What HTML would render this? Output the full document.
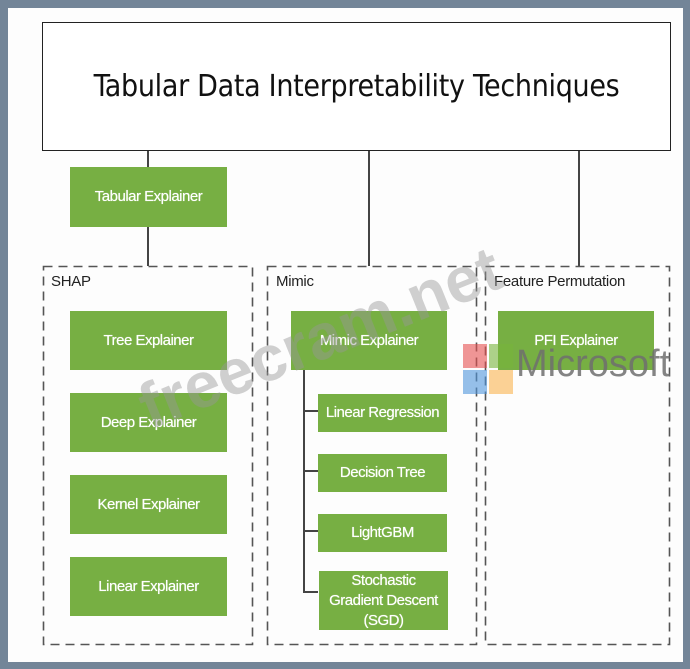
<!DOCTYPE html>
<html><head><style>
body{margin:0;width:690px;height:669px;background:#738598;position:relative;overflow:hidden;font-family:"Liberation Sans",sans-serif}
.w{position:absolute;left:8px;top:8px;width:675px;height:654px;background:#fdfdfd}
.a{position:absolute}
.g{position:absolute;background:#77af43;color:#fff;font-size:15px;display:flex;align-items:center;justify-content:center;text-align:center;letter-spacing:-0.5px;line-height:20px;text-shadow:0 0 0.6px #fff}
.l{position:absolute;background:#444}
.lab{position:absolute;font-size:15px;color:#222;letter-spacing:-0.3px}
</style></head><body>
<div class="w"></div>
<div class="a" style="left:42px;top:22px;width:627px;height:127px;border:1.5px solid #222;background:#fff;display:flex;align-items:center;justify-content:center;font-size:30px;color:#111;font-family:'DejaVu Sans Condensed','DejaVu Sans',sans-serif;letter-spacing:-0.3px">Tabular Data Interpretability Techniques</div>
<div class="l" style="left:147px;top:151px;width:1.5px;height:115px"></div>
<div class="l" style="left:368px;top:151px;width:1.5px;height:115px"></div>
<div class="l" style="left:578px;top:151px;width:1.5px;height:115px"></div>
<div class="g" style="left:70px;top:167px;width:157px;height:60px">Tabular Explainer</div>
<svg class="a" style="left:0;top:0" width="690" height="669">
<g fill="none" stroke="#555" stroke-width="1.6" stroke-dasharray="9,6">
<rect x="43.5" y="266.5" width="209" height="378"/>
<rect x="267.5" y="266.5" width="209" height="378"/>
<rect x="485.5" y="266.5" width="184" height="378"/>
</g></svg>
<div class="lab" style="left:51px;top:273px">SHAP</div>
<div class="lab" style="left:276px;top:273px">Mimic</div>
<div class="lab" style="left:494px;top:273px">Feature Permutation</div>
<div class="g" style="left:70px;top:311px;width:157px;height:59px">Tree Explainer</div>
<div class="g" style="left:70px;top:393px;width:157px;height:59px">Deep Explainer</div>
<div class="g" style="left:70px;top:475px;width:157px;height:59px">Kernel Explainer</div>
<div class="g" style="left:70px;top:557px;width:157px;height:59px">Linear Explainer</div>
<div class="g" style="left:291px;top:311px;width:156px;height:59px">Mimic Explainer</div>
<div class="l" style="left:303px;top:370px;width:1.5px;height:222px"></div>
<div class="l" style="left:303px;top:410px;width:15px;height:1.5px"></div>
<div class="l" style="left:303px;top:470px;width:15px;height:1.5px"></div>
<div class="l" style="left:303px;top:530px;width:15px;height:1.5px"></div>
<div class="l" style="left:303px;top:591px;width:15px;height:1.5px"></div>
<div class="g" style="left:318px;top:394px;width:129px;height:38px">Linear Regression</div>
<div class="g" style="left:318px;top:454px;width:129px;height:38px">Decision Tree</div>
<div class="g" style="left:318px;top:514px;width:129px;height:38px">LightGBM</div>
<div class="g" style="left:319px;top:571px;width:129px;height:59px">Stochastic<br>Gradient Descent<br>(SGD)</div>
<div class="g" style="left:498px;top:311px;width:156px;height:59px">PFI Explainer</div>
<div class="a" style="left:463px;top:344px;width:24px;height:24px;background:rgba(230,80,80,.6)"></div>
<div class="a" style="left:489px;top:344px;width:24px;height:24px;background:rgba(120,180,60,.6)"></div>
<div class="a" style="left:463px;top:370px;width:24px;height:24px;background:rgba(80,150,220,.6)"></div>
<div class="a" style="left:489px;top:370px;width:24px;height:24px;background:rgba(250,180,80,.6)"></div>
<div class="a" style="left:516px;top:343px;font-size:38px;color:rgba(110,110,110,.85)">Microsoft</div>
<div class="a" style="left:128px;top:375px;font-size:64px;font-weight:bold;color:rgba(150,150,150,.45);transform:rotate(-22deg);transform-origin:left top">freecram.net</div>
</body></html>
